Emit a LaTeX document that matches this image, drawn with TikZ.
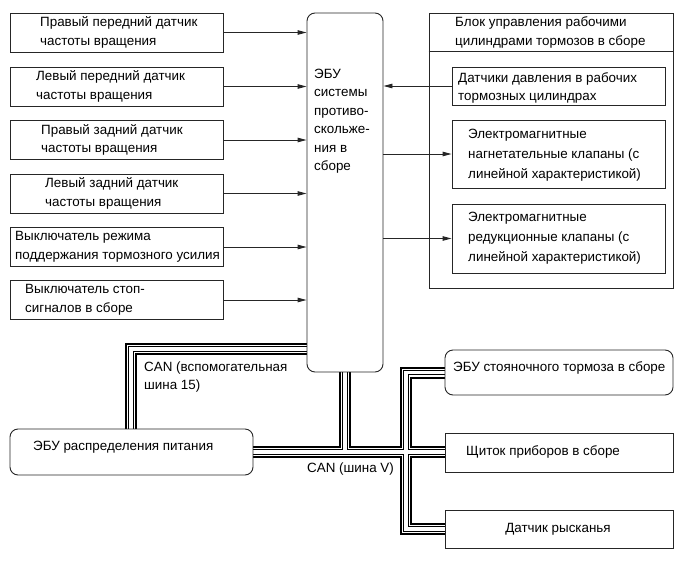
\documentclass[tikz,border=0pt]{standalone}
\usepackage{fontspec}
\setmainfont{Liberation Sans}
\usetikzlibrary{arrows.meta,backgrounds}
\newcommand{\buspaths}[1]{%
  \draw[#1] (ecu.west |- auxc) -- (auxc) -- (auxc |- pwr.north);
  \draw[#1] (pwr.east) -- (pwr.east -| ic.west);
  \draw[#1] (ecu.south) -- (ecu.south |- pwr.east);
  \draw[#1] (pk.west) -- (pk.west -| vx) -- (yaw.west -| vx) -- (yaw.west);
}
\begin{document}
\begin{tikzpicture}[x=1pt,y=-1pt,
  font=\fontsize{13.4}{18.5}\selectfont,
  box/.style={draw=black!85, line width=0.9pt, inner sep=0pt},
  rbox/.style={box, rounded corners=8pt},
  lbox/.style={box, minimum width=213pt, minimum height=39pt},
  txt/.style={inner sep=0pt, align=left, anchor=west},
  sig/.style={line width=0.9pt, draw=black!85, -{Triangle[length=9pt,width=4.5pt]}},
]
\useasboundingbox (0,0) rectangle (690,562);

% central ECU
\node[rbox, minimum width=76pt, minimum height=359pt] (ecu) at (345,192.5) {};
\node[txt] (ecut) at (314,121) {ЭБУ\\системы\\противо-\\скольже-\\ния в\\сборе};

% left input boxes
\node[lbox] (b1) at (116.5,32.5) {};
\node[lbox] (b2) at (116.5,86.5) {};
\node[lbox] (b3) at (116.5,140) {};
\node[lbox] (b4) at (116.5,193.5) {};
\node[lbox] (b5) at (116.5,247) {};
\node[lbox] (b6) at (116.5,300) {};
\node[txt] (t1) at (40,32.5) {Правый передний датчик\\частоты вращения};
\node[txt] (t2) at (36,86.5) {Левый передний датчик\\частоты вращения};
\node[txt] (t3) at (41,140) {Правый задний датчик\\частоты вращения};
\node[txt] (t4) at (45,193.5) {Левый задний датчик\\частоты вращения};
\node[txt] (t5) at (15,247) {Выключатель режима\\поддержания тормозного усилия};
\node[txt] (t6) at (25,300) {Выключатель стоп-\\сигналов в сборе};
\foreach \b in {b1,b2,b3,b4,b5,b6}
  \draw[sig] (\b.east) -- (ecu.west |- \b.east);

% right block
\node[box, minimum width=244pt, minimum height=275pt] (rb) at (551,150.5) {};
\coordinate (divy) at (0,51);
\draw[box] (rb.west |- divy) -- (rb.east |- divy);
\node[txt] (hdr) at (455,32.5) {Блок управления рабочими\\цилиндрами тормозов в сборе};
\node[box, minimum width=213pt, minimum height=38pt] (p1) at (558.5,86) {};
\node[box, minimum width=213pt, minimum height=68pt] (p2) at (558.5,154) {};
\node[box, minimum width=213pt, minimum height=69pt] (p3) at (558.5,238.5) {};
\node[txt] (pt1) at (458,88) {Датчики давления в рабочих\\тормозных цилиндрах};
\node[txt, font=\fontsize{13.4}{20}\selectfont] (pt2) at (468,155) {Электромагнитные\\нагнетательные клапаны (с\\линейной характеристикой)};
\node[txt, font=\fontsize{13.4}{20}\selectfont] (pt3) at (468,238.5) {Электромагнитные\\редукционные клапаны (с\\линейной характеристикой)};
\draw[sig] (p1.west) -- (ecu.east |- p1.west);
\draw[sig] (ecu.east |- p2.west) -- (p2.west);
\draw[sig] (ecu.east |- p3.west) -- (p3.west);

% bottom nodes
\node[rbox, minimum width=243pt, minimum height=46pt] (pwr) at (131.5,452) {};
\node[txt] (pwrt) at (33,447) {ЭБУ распределения питания};
\node[rbox, minimum width=228pt, minimum height=45pt] (pk) at (559,372.5) {};
\node[txt] (pkt) at (453,368) {ЭБУ стояночного тормоза в сборе};
\node[box, minimum width=228pt, minimum height=39pt] (ic) at (559,452.5) {};
\node[txt] (ict) at (466,452) {Щиток приборов в сборе};
\node[box, minimum width=228pt, minimum height=38pt] (yaw) at (559,529) {};
\node[inner sep=0pt] (yawt) at (558,529) {Датчик рысканья};

% bus labels
\node[txt] (can15) at (144,377) {CAN (вспомогательная\\шина 15)};
\node[txt] (canv) at (307,469) {CAN (шина V)};

% CAN buses
\coordinate (auxc) at (131,349);
\coordinate (vx) at (406,450);
\begin{scope}[on background layer]
  \fill[white] (0,0) rectangle (690,562);
  \buspaths{line width=12pt, black}
  \buspaths{line width=8pt, white}
  \buspaths{line width=5.6pt, black}
  \buspaths{line width=3.6pt, white}
\end{scope}
\end{tikzpicture}
\end{document}
